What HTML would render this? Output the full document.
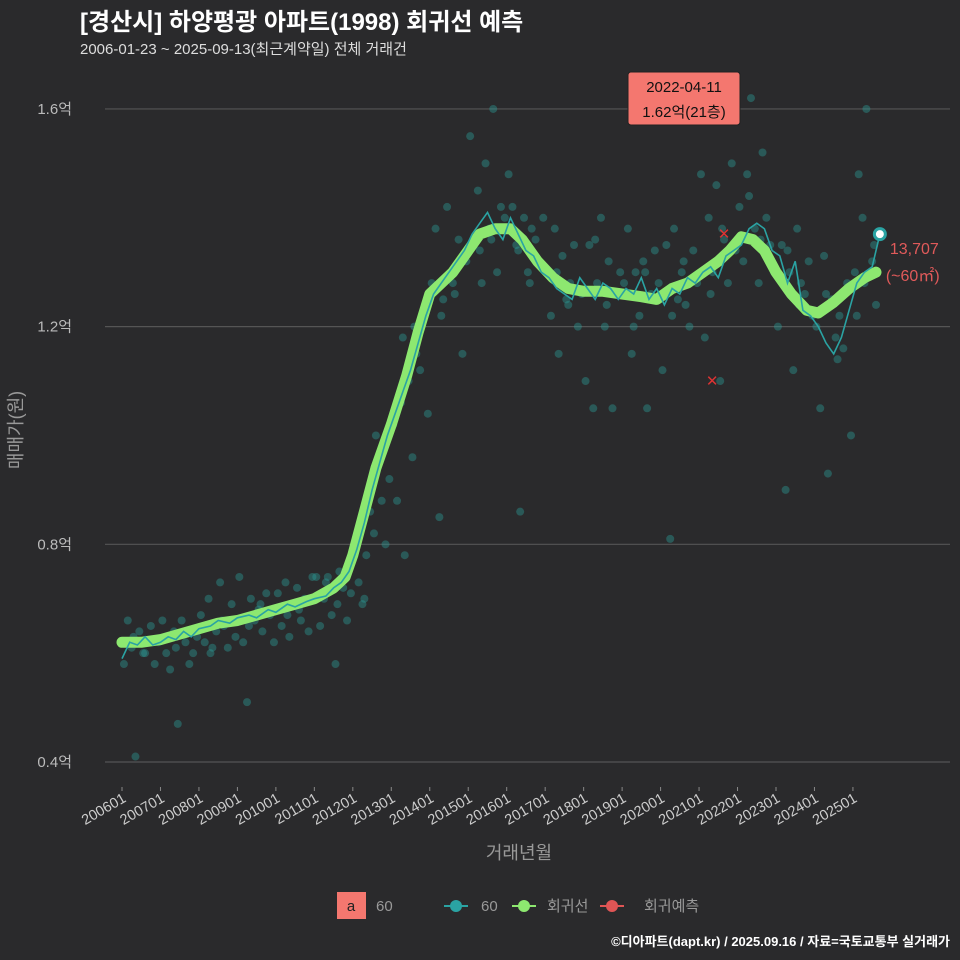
<!DOCTYPE html>
<html><head><meta charset="utf-8"><style>
body{margin:0;background:#2a2a2c;}
svg{display:block;font-family:"Liberation Sans","Noto Sans CJK KR",sans-serif;}
</style></head><body>
<svg id="c" width="960" height="960" viewBox="0 0 960 960">
<rect width="960" height="960" fill="#2a2a2c"/>
<text x="80" y="30" fill="#fff" font-size="24" font-weight="bold">[경산시] 하양평광 아파트(1998) 회귀선 예측</text>
<text x="80" y="54" fill="#ddd" font-size="15">2006-01-23 ~ 2025-09-13(최근계약일) 전체 거래건</text>
<g id="grid"></g>
<g id="dots"></g>
<g id="lines"></g>
<g id="xax"></g>
<text x="519" y="859" fill="#999" font-size="18" text-anchor="middle">거래년월</text>
<text transform="translate(22,430) rotate(-90)" fill="#999" font-size="18" text-anchor="middle">매매가(원)</text>
<g>
<rect x="337" y="892" width="29" height="27" fill="#f4776f"/>
<text x="351" y="911" fill="#222" font-size="15" text-anchor="middle">a</text>
<text x="376" y="911" fill="#999" font-size="15">60</text>
<line x1="444" y1="906" x2="468" y2="906" stroke="#2aa3a3" stroke-width="2"/><circle cx="456" cy="906" r="6" fill="#2aa3a3"/>
<text x="481" y="911" fill="#999" font-size="15">60</text>
<line x1="512" y1="906" x2="536" y2="906" stroke="#8de870" stroke-width="2"/><circle cx="524" cy="906" r="6" fill="#8de870"/>
<text x="547" y="911" fill="#999" font-size="15">회귀선</text>
<line x1="600" y1="906" x2="624" y2="906" stroke="#e05555" stroke-width="2"/><circle cx="612" cy="906" r="6" fill="#e05555"/>
<text x="644" y="911" fill="#999" font-size="15">회귀예측</text>
</g>
<text x="950" y="946" fill="#fff" font-size="13" font-weight="bold" text-anchor="end">©디아파트(dapt.kr) / 2025.09.16 / 자료=국토교통부 실거래가</text>
</svg>
<script>
const yTicks=[0.4,0.8,1.2,1.6];
const xTickYears=[2006,2007,2008,2009,2010,2011,2012,2013,2014,2015,2016,2017,2018,2019,2020,2021,2022,2023,2024,2025];
const regT=[2006,2006.5,2007,2007.5,2008,2008.5,2009,2009.5,2010,2010.5,2011,2011.5,2011.8,2012,2012.3,2012.6,2013,2013.4,2013.7,2014,2014.3,2014.6,2015,2015.3,2015.7,2016.1,2016.4,2016.8,2017.2,2017.6,2018,2018.5,2019,2019.5,2019.9,2020.3,2020.7,2021.1,2021.5,2021.8,2022.1,2022.4,2022.7,2023,2023.4,2023.8,2024.1,2024.5,2024.9,2025.3,2025.6];
const regV=[0.62,0.62,0.625,0.635,0.645,0.655,0.66,0.67,0.68,0.69,0.70,0.72,0.74,0.78,0.86,0.94,1.02,1.11,1.19,1.26,1.28,1.30,1.34,1.37,1.38,1.38,1.36,1.32,1.29,1.27,1.265,1.265,1.26,1.255,1.25,1.27,1.28,1.30,1.32,1.34,1.365,1.36,1.34,1.30,1.26,1.23,1.225,1.245,1.27,1.29,1.30];
const avgT=[2006,2006.2,2006.4,2006.6,2006.8,2007,2007.2,2007.4,2007.6,2007.8,2008,2008.3,2008.5,2008.8,2009,2009.3,2009.5,2009.8,2010,2010.3,2010.5,2010.8,2011,2011.3,2011.5,2011.7,2011.9,2012.1,2012.3,2012.5,2012.7,2012.9,2013.1,2013.3,2013.5,2013.7,2013.9,2014.1,2014.3,2014.5,2014.7,2014.9,2015.1,2015.3,2015.5,2015.7,2015.9,2016.1,2016.3,2016.5,2016.7,2016.9,2017.1,2017.3,2017.5,2017.7,2017.9,2018.1,2018.3,2018.5,2018.7,2018.9,2019.1,2019.3,2019.5,2019.7,2019.9,2020.1,2020.3,2020.5,2020.7,2020.9,2021.1,2021.3,2021.5,2021.7,2021.9,2022.1,2022.3,2022.5,2022.7,2022.9,2023.1,2023.3,2023.5,2023.7,2023.9,2024.1,2024.3,2024.5,2024.7,2024.9,2025.1,2025.3,2025.5,2025.7];
const avgV=[0.59,0.62,0.615,0.63,0.615,0.62,0.63,0.625,0.64,0.63,0.645,0.65,0.66,0.655,0.665,0.67,0.665,0.68,0.675,0.69,0.685,0.695,0.70,0.705,0.72,0.73,0.75,0.79,0.84,0.90,0.95,1.00,1.04,1.08,1.12,1.17,1.22,1.26,1.28,1.30,1.32,1.34,1.37,1.39,1.41,1.38,1.36,1.40,1.37,1.34,1.33,1.30,1.29,1.27,1.26,1.25,1.29,1.27,1.25,1.28,1.27,1.25,1.27,1.26,1.29,1.25,1.27,1.24,1.27,1.26,1.29,1.28,1.30,1.31,1.29,1.33,1.34,1.35,1.38,1.39,1.38,1.34,1.33,1.28,1.32,1.23,1.22,1.20,1.17,1.15,1.18,1.23,1.28,1.30,1.31,1.37];
const ptT=[
2006.05,2006.15,2006.25,2006.35,2006.45,2006.55,2006.65,2006.75,2006.85,2006.95,2006.3,2006.6,
2007.05,2007.15,2007.25,2007.35,2007.45,2007.55,2007.65,2007.75,2007.85,2007.95,2007.4,2007.7,
2008.05,2008.15,2008.25,2008.35,2008.45,2008.55,2008.65,2008.75,2008.85,2008.95,2008.3,2008.6,
2009.05,2009.15,2009.25,2009.35,2009.45,2009.55,2009.65,2009.75,2009.85,2009.95,2009.3,2009.6,
2010.05,2010.15,2010.25,2010.35,2010.45,2010.55,2010.65,2010.75,2010.85,2010.95,2010.3,2010.6,
2011.05,2011.15,2011.25,2011.35,2011.45,2011.55,2011.65,2011.75,2011.85,2011.95,2011.3,2011.6,
2012.05,2012.15,2012.25,2012.35,2012.45,2012.55,2012.65,2012.75,2012.85,2012.95,2012.3,2012.6,
2013.05,2013.15,2013.25,2013.35,2013.45,2013.55,2013.65,2013.75,2013.85,2013.95,2013.3,2013.6,
2014.05,2014.15,2014.25,2014.35,2014.45,2014.55,2014.65,2014.75,2014.85,2014.95,2014.3,2014.6,
2015.05,2015.15,2015.25,2015.35,2015.45,2015.55,2015.65,2015.75,2015.85,2015.95,2015.3,2015.6,
2016.05,2016.15,2016.25,2016.35,2016.45,2016.55,2016.65,2016.75,2016.85,2016.95,2016.3,2016.6,
2017.05,2017.15,2017.25,2017.35,2017.45,2017.55,2017.65,2017.75,2017.85,2017.95,2017.3,2017.6,
2018.05,2018.15,2018.25,2018.35,2018.45,2018.55,2018.65,2018.75,2018.85,2018.95,2018.3,2018.6,
2019.05,2019.15,2019.25,2019.35,2019.45,2019.55,2019.65,2019.75,2019.85,2019.95,2019.3,2019.6,
2020.05,2020.15,2020.25,2020.35,2020.45,2020.55,2020.65,2020.75,2020.85,2020.95,2020.3,2020.6,
2021.05,2021.15,2021.25,2021.35,2021.45,2021.55,2021.65,2021.75,2021.85,2021.95,2021.3,2021.6,
2022.05,2022.15,2022.25,2022.35,2022.45,2022.55,2022.65,2022.75,2022.85,2022.95,2022.3,2022.6,
2023.05,2023.15,2023.25,2023.35,2023.45,2023.55,2023.65,2023.75,2023.85,2023.95,2023.3,2023.6,
2024.05,2024.15,2024.25,2024.35,2024.45,2024.55,2024.65,2024.75,2024.85,2024.95,2024.3,2024.6,
2025.05,2025.15,2025.25,2025.35,2025.45,2025.55,2025.1,2025.3,2025.5,2025.6];
const ptV=[
0.58,0.66,0.61,0.41,0.64,0.60,0.62,0.65,0.58,0.62,0.63,0.60,
0.66,0.60,0.57,0.64,0.47,0.66,0.62,0.58,0.60,0.63,0.61,0.64,
0.67,0.62,0.70,0.61,0.64,0.73,0.65,0.61,0.69,0.63,0.60,0.66,
0.74,0.62,0.51,0.70,0.66,0.68,0.64,0.71,0.67,0.62,0.65,0.69,
0.71,0.65,0.73,0.63,0.69,0.72,0.66,0.70,0.64,0.74,0.67,0.68,
0.74,0.65,0.70,0.74,0.67,0.58,0.75,0.72,0.66,0.71,0.73,0.69,
0.80,0.73,0.69,0.78,0.86,0.82,0.95,0.88,0.80,0.92,0.70,1.00,
1.02,0.88,1.06,0.78,1.10,0.96,1.15,1.12,1.22,1.04,1.18,1.20,
1.28,1.38,0.85,1.25,1.42,1.30,1.26,1.36,1.15,1.32,1.22,1.28,
1.55,1.35,1.45,1.28,1.50,1.38,1.60,1.30,1.42,1.40,1.34,1.36,
1.48,1.42,1.35,0.86,1.40,1.30,1.38,1.36,1.32,1.40,1.34,1.28,
1.30,1.22,1.38,1.15,1.33,1.25,1.28,1.35,1.20,1.26,1.30,1.24,
1.10,1.35,1.05,1.28,1.40,1.20,1.32,1.05,1.26,1.30,1.36,1.24,
1.28,1.38,1.15,1.30,1.22,1.32,1.05,1.26,1.34,1.28,1.20,1.30,
1.12,1.35,0.81,1.38,1.25,1.30,1.24,1.20,1.34,1.28,1.22,1.32,
1.48,1.18,1.40,1.30,1.46,1.10,1.36,1.28,1.50,1.34,1.26,1.38,
1.42,1.32,1.48,1.62,1.38,1.28,1.52,1.40,1.35,1.30,1.44,1.36,
1.20,1.35,0.90,1.30,1.12,1.38,1.28,1.26,1.32,1.22,1.34,1.24,
1.20,1.05,1.33,0.93,1.25,1.18,1.22,1.16,1.28,1.00,1.26,1.14,
1.30,1.48,1.40,1.60,1.30,1.35,1.22,1.28,1.32,1.24];
const X=t=>122+(t-2006)*38.47, Y=v=>762-(v-0.4)*544.2;
const NS='http://www.w3.org/2000/svg';
function mk(tag,attrs,parent){const e=document.createElementNS(NS,tag);for(const k in attrs)e.setAttribute(k,attrs[k]);document.getElementById(parent).appendChild(e);return e;}
yTicks.forEach(v=>{
 const l=mk('line',{x1:105,x2:950,y1:Y(v),y2:Y(v),stroke:'#555','stroke-width':1.2},'grid');
 
 
 const t=mk('text',{x:72,y:Y(v)+5,fill:'#bbb','font-size':15,'text-anchor':'end'},'grid');
 
 
 t.textContent=v.toFixed(1)+'억';
});
xTickYears.forEach(yr=>{
 const x=X(yr);
 mk('line',{x1:x,x2:x,y1:787,y2:791,stroke:'#888'},'xax');
 const t=mk('text',{transform:`translate(${x+5},${801}) rotate(-30)`,fill:'#ccc','font-size':14.5,'text-anchor':'end'},'xax');
 
 
 t.textContent=yr+'01';
});
ptT.forEach((t,i)=>{
 if(ptV[i]===undefined) return;
 const c=mk('circle',{cx:X(t),cy:Y(ptV[i]),r:4,fill:'#2a9a96','fill-opacity':0.42},'dots');
 
 
});
const path=(T,V)=>T.map((t,i)=>(i?'L':'M')+X(t).toFixed(1)+','+Y(V[i]).toFixed(1)).join('');
const g=mk('path',{d:path(regT,regV),stroke:'#8de870','stroke-width':11,fill:'none','stroke-linecap':'round','stroke-linejoin':'round'},'lines');


const a=mk('path',{d:path(avgT,avgV),stroke:'#2aa3a3','stroke-width':1.6,fill:'none'},'lines');


[[2021.65,1.37],[2021.34,1.10]].forEach(p=>{
 const e=mk('text',{x:X(p[0]),y:Y(p[1])+5,fill:'#d33','font-size':15,'text-anchor':'middle'},'lines');
 
 
 e.textContent='✕';
});
const lt=avgT[avgT.length-1], lv=avgV[avgV.length-1];
const ep=mk('circle',{cx:X(lt),cy:Y(lv),r:5.5,fill:'#fff',stroke:'#2aa3a3','stroke-width':3},'lines');


const l1=mk('text',{x:X(lt)+10,y:Y(lv)+20,fill:'#e05a5a','font-size':16},'lines');


l1.textContent='13,707';
const l2=mk('text',{x:X(lt)+6,y:Y(lv)+47,fill:'#e05a5a','font-size':16},'lines');


l2.textContent='(~60㎡)';
const bx=mk('rect',{x:628,y:72,width:112,height:53,rx:3,fill:'#f4776f',stroke:'#222'},'lines');


const b1=mk('text',{x:684,y:92,fill:'#111','font-size':15,'text-anchor':'middle'},'lines');


b1.textContent='2022-04-11';
const b2=mk('text',{x:684,y:117,fill:'#111','font-size':15,'text-anchor':'middle'},'lines');


b2.textContent='1.62억(21층)';
</script>
</body></html>
